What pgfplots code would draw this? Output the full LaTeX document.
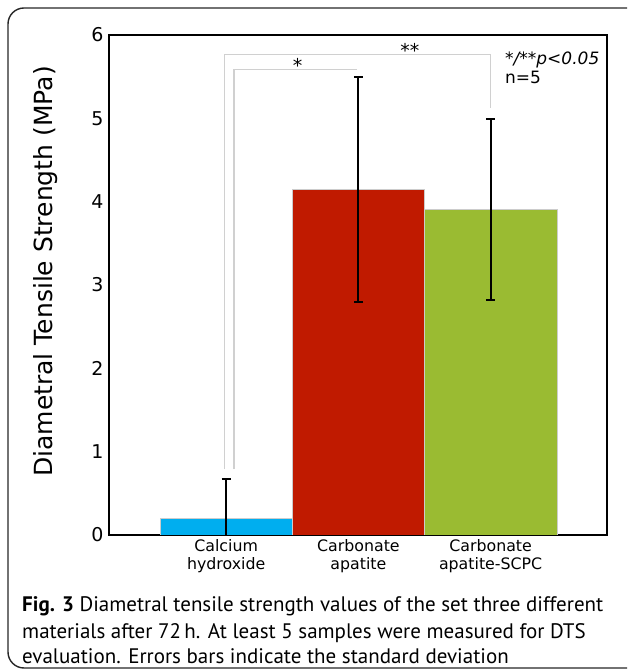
\documentclass[border=0pt]{standalone}
\usepackage{pgfplots}
\pgfplotsset{compat=1.18}
\usepackage{fontspec}
\setmainfont{DejaVu Sans}
\newfontfamily\capfont{PT Sans}
\definecolor{cblue}{RGB}{0,174,239}
\definecolor{cred}{RGB}{192,26,0}
\definecolor{cgreen}{RGB}{154,187,50}
\definecolor{brk}{RGB}{208,208,208}
\begin{document}
\begin{tikzpicture}
\useasboundingbox (0pt,0pt) rectangle (627pt,672pt);
\begin{scope}
\clip (0pt,0pt) rectangle (627pt,672pt);
\draw[line width=1.4pt, rounded corners=16pt, black!85] (8pt,4pt) rectangle (660pt,664pt);
\end{scope}
\begin{axis}[
  at={(109pt,137pt)}, anchor=south west,
  scale only axis, width=498pt, height=500pt,
  xmin=-0.886, xmax=2.88, ymin=0, ymax=6,
  ytick={0,1,2,3,4,5,6},
  xtick={0,1,2},
  xticklabels={{Calcium\\hydroxide},{Carbonate\\apatite},{Carbonate\\apatite-SCPC}},
  xticklabel style={align=center, font=\fontsize{15.8}{17.5}\selectfont, yshift=-1pt},
  yticklabel style={font=\fontsize{19}{21}\selectfont, xshift=-2pt},
  major tick length=0pt,
  axis line style={line width=1.8pt},
  ylabel={Diametral Tensile Strength (MPa)},
  ylabel style={font=\fontsize{25}{27}\selectfont, at={(axis description cs:-0.128,0.527)}, anchor=center},
  ybar, bar width=1, bar shift=0pt,
  /pgf/number format/assume math mode=true,
  error bars/error bar style={line width=2.2pt, black},
  error bars/error mark options={rotate=90, mark size=4.5pt, line width=2.2pt, black},
]
\draw[brk, line width=1.3pt] (axis cs:-0.01,0.79) -- (axis cs:-0.01,5.77) -- (axis cs:2.0,5.77) -- (axis cs:2.0,5.12);
\draw[brk, line width=1.3pt] (axis cs:0.06,0.79) -- (axis cs:0.06,5.59) -- (axis cs:0.99,5.59);
\node[font=\fontsize{19}{20}\selectfont] at (axis cs:0.54,5.635) {*};
\node[font=\fontsize{19}{20}\selectfont] at (axis cs:1.39,5.815) {**};
\addplot[fill=cblue, draw=gray!40, line width=0.5pt, error bars/.cd, y dir=both, y explicit] coordinates {(0,0.204) +- (0,0.47)};
\addplot[fill=cred, draw=gray!40, line width=0.5pt, error bars/.cd, y dir=both, y explicit] coordinates {(1,4.15) +- (0,1.35)};
\addplot[fill=cgreen, draw=gray!40, line width=0.5pt, error bars/.cd, y dir=both, y explicit] coordinates {(2,3.905) +- (0,1.085)};
\end{axis}
\node[anchor=base west, align=left, font=\fontsize{17}{19}\selectfont, inner sep=0pt] at (505pt,607pt) {\itshape */**p<0.05};
\node[anchor=base west, align=left, font=\fontsize{17}{19}\selectfont, inner sep=0pt] at (505pt,588pt) {n=5};
\node[anchor=base west, inner sep=0pt, font=\capfont\fontsize{21}{26}\selectfont] at (22pt,60pt) {\textbf{Fig. 3} Diametral tensile strength values of the set three different};
\node[anchor=base west, inner sep=0pt, font=\capfont\fontsize{21}{26}\selectfont] at (22pt,34pt) {materials after 72\,h. At least 5 samples were measured for DTS};
\node[anchor=base west, inner sep=0pt, font=\capfont\fontsize{21}{26}\selectfont] at (22pt,8.5pt) {evaluation. Errors bars indicate the standard deviation};
\end{tikzpicture}
\end{document}
